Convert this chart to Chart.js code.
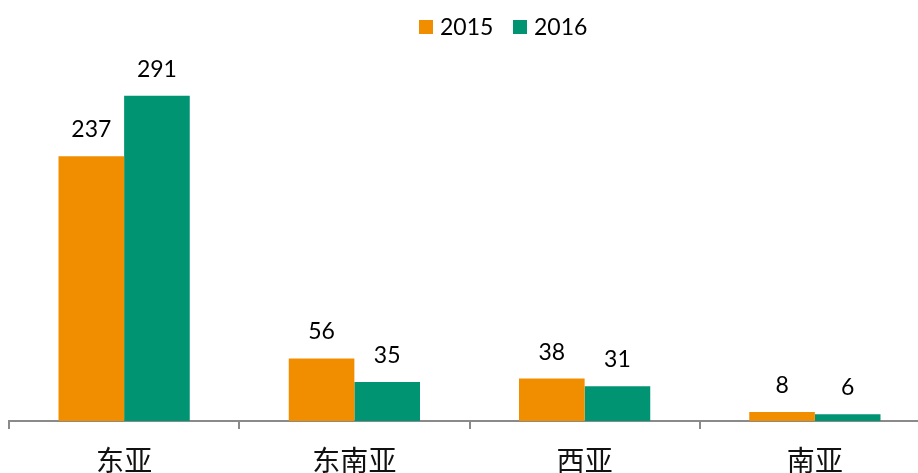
<!DOCTYPE html>
<html>
<head>
<meta charset="utf-8">
<script src="https://cdn.jsdelivr.net/npm/chart.js@4/dist/chart.umd.min.js"></script>
<style>
html,body{margin:0;padding:0;overflow:hidden;background:#fff;width:918px;height:473px;}
#wrap{position:absolute;left:0;top:0;width:935px;height:473px;}
</style>
</head>
<body>
<div id="wrap"><canvas id="c"></canvas></div>
<script>
const categories = ['东亚', '东南亚', '西亚', '南亚'];
const seriesNames = ['2015', '2016'];
const values2015 = [237, 56, 38, 8];
const values2016 = [291, 35, 31, 6];
const colors = ['#F18E00', '#009473'];

const labelFont = '"Lato", "Open Sans", sans-serif';

const dataLabels = {
  id: 'dataLabels',
  afterDatasetsDraw(chart) {
    const ctx = chart.ctx;
    ctx.save();
    ctx.font = '23px ' + labelFont;
    ctx.fillStyle = '#000';
    ctx.textAlign = 'center';
    ctx.textBaseline = 'alphabetic';
    chart.data.datasets.forEach((ds, i) => {
      const meta = chart.getDatasetMeta(i);
      meta.data.forEach((bar, j) => {
        ctx.fillText(String(ds.data[j]), bar.x, bar.y - 19);
      });
    });
    ctx.restore();
  }
};

const customLegend = {
  id: 'customLegend',
  afterDraw(chart) {
    const ctx = chart.ctx;
    ctx.save();
    ctx.font = '23px ' + labelFont;
    ctx.textBaseline = 'alphabetic';
    ctx.textAlign = 'left';
    const starts = [419, 513];
    chart.data.datasets.forEach((ds, i) => {
      const x = starts[i];
      ctx.fillStyle = ds.backgroundColor;
      ctx.fillRect(x, 20, 14, 14);
      ctx.fillStyle = '#000';
      ctx.fillText(ds.label, x + 21, 35);
    });
    ctx.restore();
  }
};

new Chart(document.getElementById('c'), {
  type: 'bar',
  data: {
    labels: categories,
    datasets: [
      { label: seriesNames[0], data: values2015, backgroundColor: colors[0] },
      { label: seriesNames[1], data: values2016, backgroundColor: colors[1] }
    ]
  },
  options: {
    responsive: true,
    maintainAspectRatio: false,
    animation: false,
    layout: { padding: { left: 9, right: 5, top: 50, bottom: 0 } },
    plugins: { legend: { display: false }, tooltip: { enabled: false } },
    datasets: { bar: { categoryPercentage: 0.57, barPercentage: 1.0 } },
    scales: {
      x: {
        offset: true,
        grid: { offset: true, drawOnChartArea: false, drawTicks: true, tickLength: 8, color: '#8a8a8a', lineWidth: 2 },
        border: { display: true, color: '#8a8a8a', width: 2 },
        ticks: { color: '#111', padding: 15, font: { family: '"Noto Sans CJK SC", sans-serif', size: 28 } },
        afterFit(scale) { scale.height = 52; }
      },
      y: { display: false, min: 0, max: 332 }
    }
  },
  plugins: [dataLabels, customLegend]
});
</script>
</body>
</html>
